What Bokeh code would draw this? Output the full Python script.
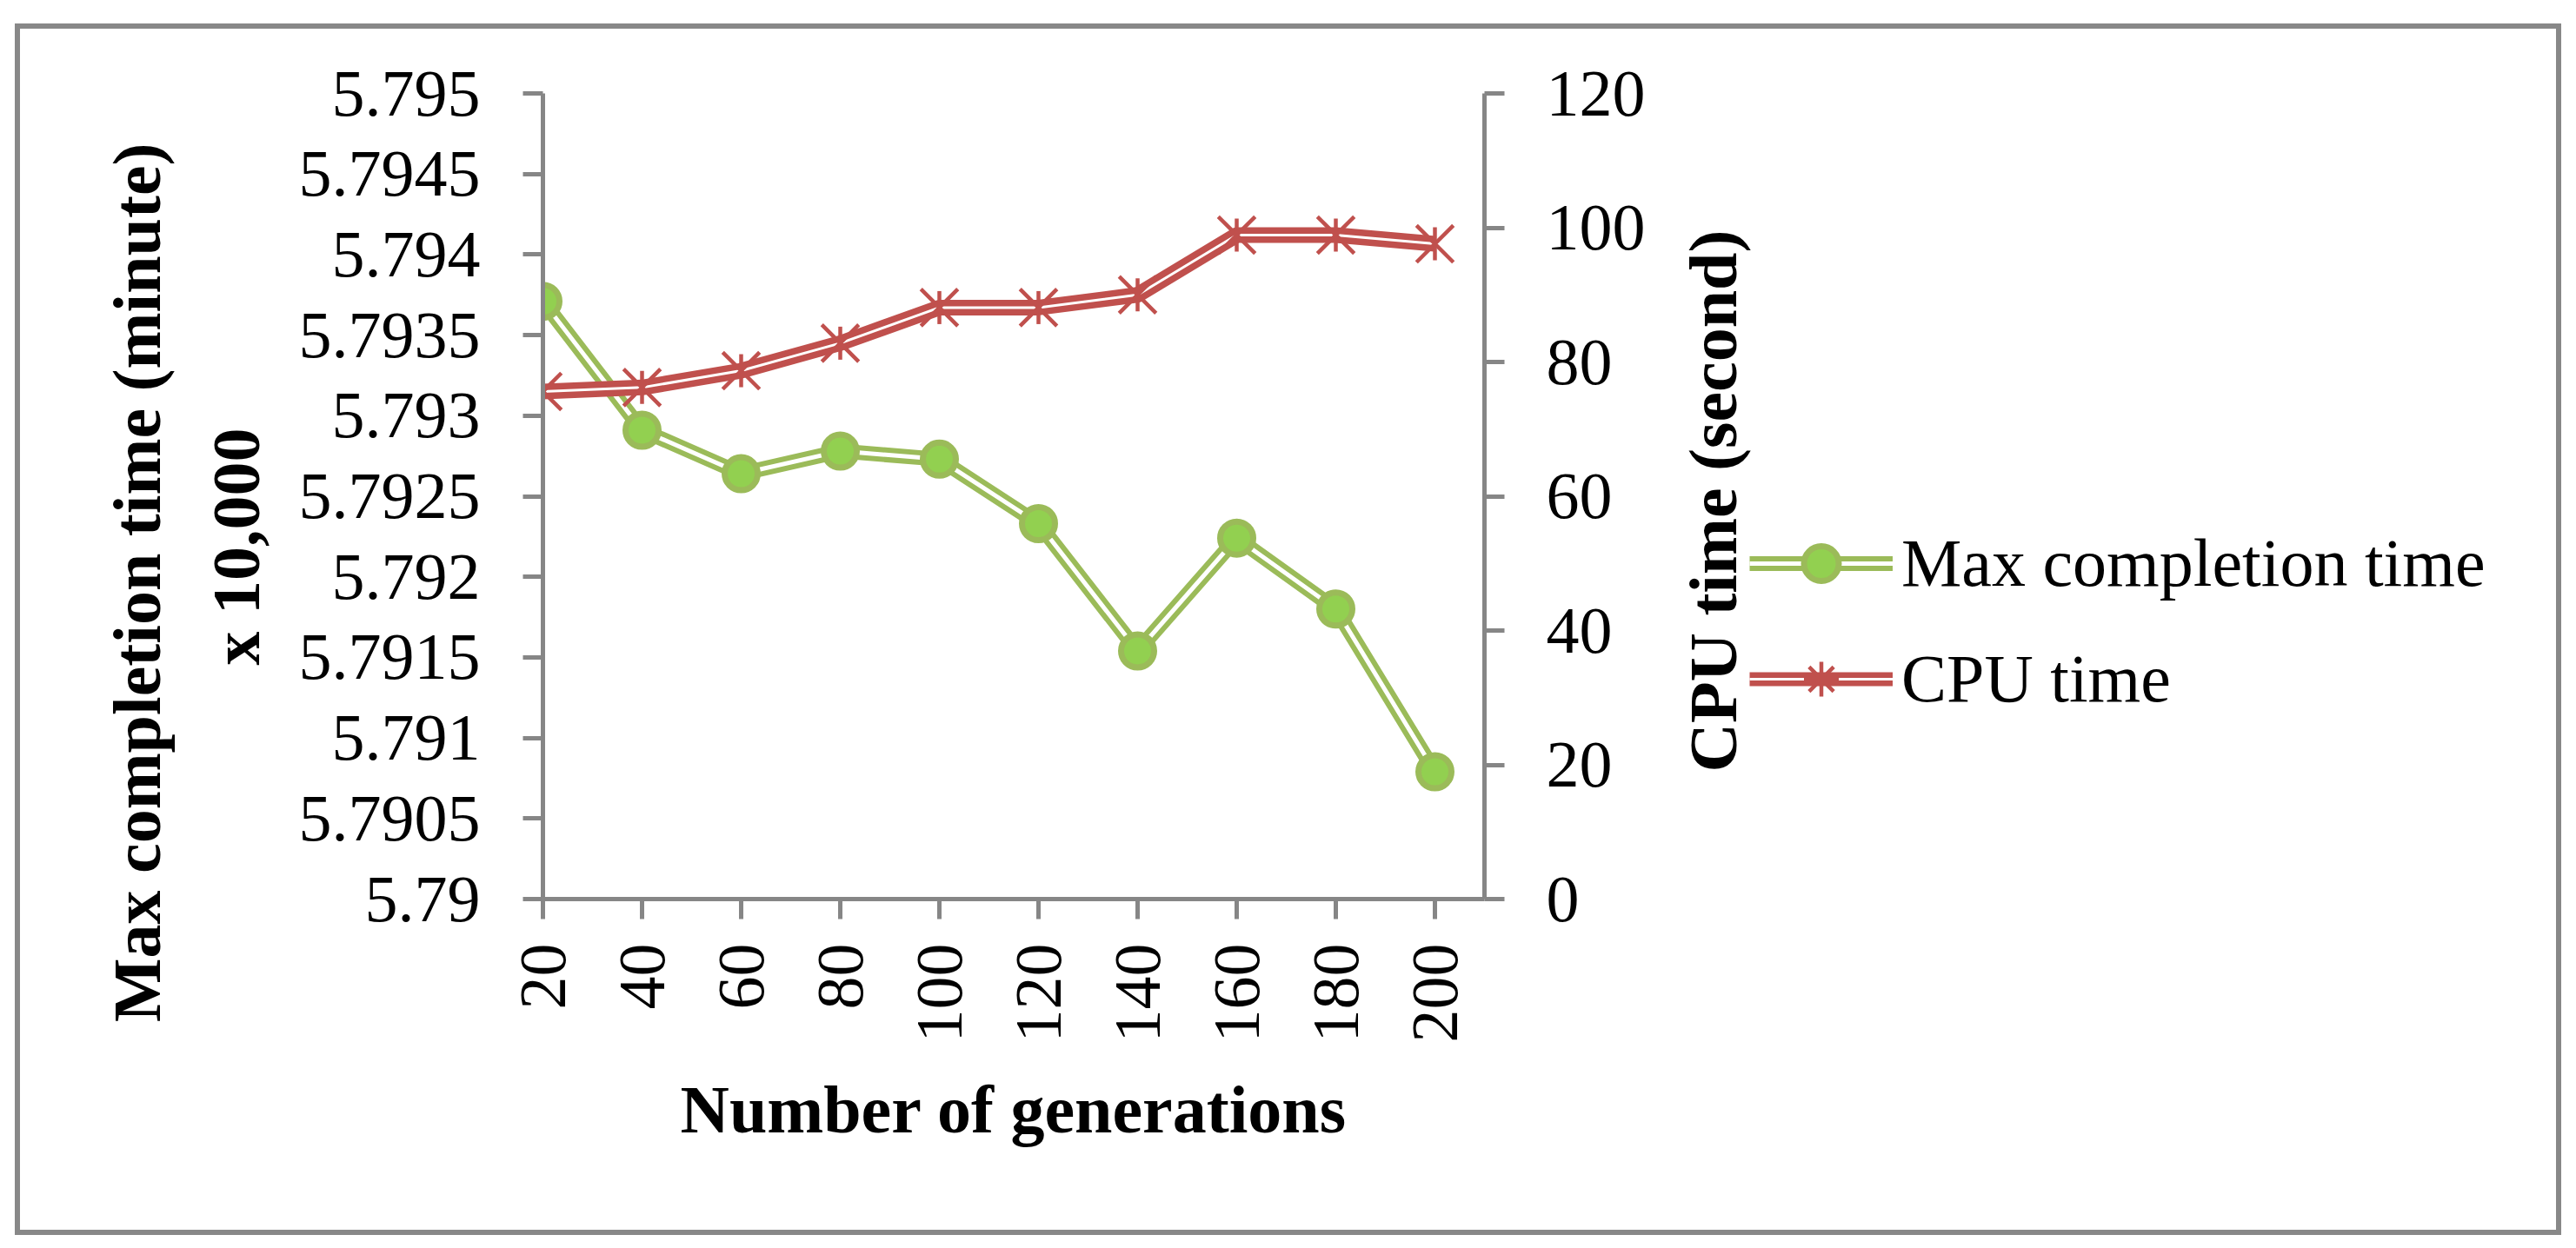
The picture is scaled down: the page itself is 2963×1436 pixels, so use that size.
import math
from bokeh.plotting import figure
from bokeh.layouts import column, row
from bokeh.models import (Range1d, LinearAxis, FixedTicker, Legend, LegendItem, Div,
                          Label)
from bokeh.embed import file_html
from bokeh.resources import INLINE

# ---------------- data ----------------
generations = [20, 40, 60, 80, 100, 120, 140, 160, 180, 200]
max_completion = [5.79371, 5.79291, 5.79264, 5.79278, 5.79273,
                  5.79233, 5.79154, 5.79224, 5.79180, 5.79079]
cpu_time = [75.6, 76.2, 78.7, 82.8, 88.1, 88.1, 90.0, 98.9, 98.9, 97.6]

left_ticks = [5.79, 5.7905, 5.791, 5.7915, 5.792, 5.7925,
              5.793, 5.7935, 5.794, 5.7945, 5.795]
left_tick_labels = ["5.79", "5.7905", "5.791", "5.7915", "5.792", "5.7925",
                    "5.793", "5.7935", "5.794", "5.7945", "5.795"]
right_ticks = [0, 20, 40, 60, 80, 100, 120]

series_names = ["Max completion time", "CPU time"]
x_title = "Number of generations"
y_title_1 = "Max completion time (minute)"
y_title_2 = "x 10,000"
y2_title = "CPU time (second)"

# ---------------- layout ----------------
H = 1414                       # both canvases share the height
WM = 1910                      # main chart canvas width
WL = 2947 - WM                 # side canvas (right title + legend)
FL, FR, FT, FB = 624, 1707, 107, 1034
Y0, Y1 = 5.79, 5.795
C0, C1 = 0, 120

FONT = "Liberation Serif"
AXIS_COLOR = "#868686"
GREEN_LINE = "#9BBB59"
GREEN_FILL = "#92D050"
RED = "#C0504D"


def y_at(fy):
    return Y0 + (FB - fy) / (FB - FT) * (Y1 - Y0)


p = figure(width=WM, height=H, output_backend="svg", toolbar_location=None,
           x_range=Range1d(20, 210), y_range=Range1d(Y0, Y1),
           min_border_left=FL, min_border_right=WM - FR,
           min_border_top=FT, min_border_bottom=H - FB)
p.extra_y_ranges = {"cpu": Range1d(C0, C1)}
p.xgrid.visible = False
p.ygrid.visible = False
p.outline_line_color = None
p.background_fill_color = "white"
p.border_fill_color = "white"


def style_axis(ax, standoff, size="76px"):
    ax.axis_line_color = AXIS_COLOR
    ax.axis_line_width = 5
    ax.major_tick_line_color = AXIS_COLOR
    ax.major_tick_line_width = 5
    ax.major_tick_out = 23
    ax.major_tick_in = 0
    ax.minor_tick_line_color = None
    ax.minor_tick_out = 0
    ax.major_label_text_font = FONT
    ax.major_label_text_font_size = size
    ax.major_label_text_color = "black"
    ax.major_label_standoff = standoff
    ax.axis_label_text_font = FONT
    ax.axis_label_text_font_style = "bold"
    ax.axis_label_text_font_size = "78px"
    ax.axis_label_text_color = "black"


def title_axis(text, tick, standoff):
    ax = LinearAxis(ticker=FixedTicker(ticks=[tick]),
                    major_label_overrides={tick: text},
                    major_label_orientation=math.pi / 2)
    ax.axis_line_color = None
    ax.major_tick_line_color = None
    ax.minor_tick_line_color = None
    ax.major_tick_out = 0
    ax.minor_tick_out = 0
    ax.major_tick_in = 0
    ax.major_label_standoff = standoff
    ax.major_label_text_font = FONT
    ax.major_label_text_font_style = "bold"
    ax.major_label_text_font_size = "78px"
    ax.major_label_text_color = "black"
    return ax


xa = p.xaxis[0]
xa.ticker = FixedTicker(ticks=generations)
xa.major_label_orientation = math.pi / 2
style_axis(xa, 28)
xa.axis_label = x_title
xa.axis_label_standoff = 30

ya = p.yaxis[0]
ya.ticker = FixedTicker(ticks=left_ticks)
ya.major_label_overrides = dict(zip(left_ticks, left_tick_labels))
style_axis(ya, 49)

# two-line left title, each line in its own band
p.add_layout(title_axis(y_title_2, y_at(492), 69), "left")
p.add_layout(title_axis(y_title_1, y_at(164), 24), "left")

ra = LinearAxis(y_range_name="cpu", ticker=FixedTicker(ticks=right_ticks))
style_axis(ra, 48)
p.add_layout(ra, "right")

# ---------------- series ----------------
g_style = dict(line_color=GREEN_LINE, line_width=17, line_join="round")
g_core = dict(line_color="white", line_width=5, line_join="round")
g_mark = dict(marker="circle", fill_color=GREEN_FILL, line_color=GREEN_LINE,
              line_width=7)
r_style = dict(line_color=RED, line_width=18, line_join="round")
r_core = dict(line_color="white", line_width=3, line_join="round")

p.line(generations, max_completion, **g_style)
p.line(generations, max_completion, **g_core)
p.scatter(generations, max_completion, size=38, **g_mark)

p.line(generations, cpu_time, y_range_name="cpu", **r_style)
p.line(generations, cpu_time, y_range_name="cpu", **r_core)
p.scatter(generations, cpu_time, y_range_name="cpu", marker="x", size=60,
          line_color=RED, line_width=4.5)
p.scatter(generations, cpu_time, y_range_name="cpu", marker="dash", size=38,
          angle=math.pi / 2, line_color=RED, line_width=4.5)

# ---------------- side canvas: right-axis title and legend ----------------
# its frame is aligned with the main frame (rows align frames vertically)
q = figure(width=WL, height=H, output_backend="svg", toolbar_location=None,
           x_range=Range1d(0, WL), y_range=Range1d(H - FB, H - FT),
           x_axis_location=None, y_axis_location=None,
           min_border_left=0, min_border_right=0,
           min_border_top=FT, min_border_bottom=H - FB)
q.grid.visible = False
q.outline_line_color = None
q.background_fill_color = "white"
q.border_fill_color = "white"

OX = 8 + WM                      # page x where the side canvas starts

q.add_layout(Label(x=1978 - OX, y=H - (584 - 8), text=y2_title, angle=math.pi / 2,
                   text_align="center", text_baseline="alphabetic",
                   text_font=FONT, text_font_style="bold", text_font_size="78px",
                   text_color="black"))

# legend entries: same series, drawn on the side canvas only as legend keys
# (their values lie outside this canvas' ranges, so only the keys show)
lg = [q.line(generations, max_completion, **g_style),
      q.line(generations, max_completion, **g_core),
      q.scatter(generations, max_completion, **g_mark)]
lr = [q.line(generations, cpu_time, line_color=RED, line_width=16),
      q.line(generations, cpu_time, line_color="white", line_width=3),
      q.scatter(generations, cpu_time, marker="x", line_color=RED, line_width=4.5),
      q.scatter(generations, cpu_time, marker="cross", line_color=RED, line_width=4.5)]

legend = Legend(items=[
    LegendItem(label=series_names[0], renderers=lg),
    LegendItem(label=series_names[1], renderers=lr),
], location=(2020 - OX, FB - (789 - 8) - 50), padding=0, margin=0, spacing=33,
    glyph_width=165, glyph_height=100, label_standoff=10,
    label_text_font=FONT, label_text_font_size="78px", label_text_color="black",
    border_line_color=None, background_fill_alpha=0)
q.add_layout(legend)

# ---------------- chart border (drawn over the page) ----------------
border = Div(text=('<div style="position:fixed; left:17px; top:27px; '
                   'width:2929px; height:1394px; box-sizing:border-box; '
                   'border:6px solid #888888; pointer-events:none; '
                   'z-index:1000;"></div>'), width=1, height=1)

layout = column(row(p, q), border)
open("out.html", "w").write(file_html(layout, INLINE))
